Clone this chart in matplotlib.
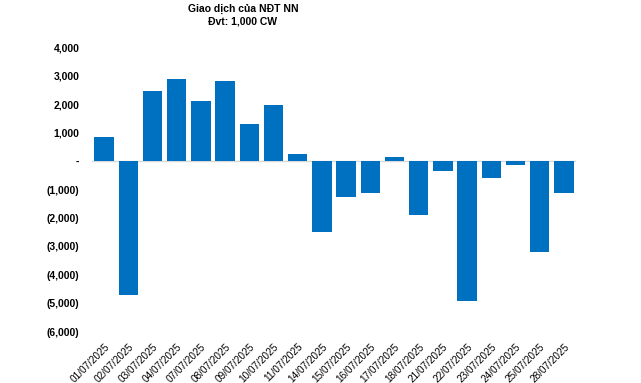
import matplotlib.pyplot as plt
from matplotlib.ticker import FuncFormatter

plt.rcParams['font.family'] = ['Liberation Sans', 'DejaVu Sans']

dates = ['01/07/2025', '02/07/2025', '03/07/2025', '04/07/2025', '07/07/2025',
         '08/07/2025', '09/07/2025', '10/07/2025', '11/07/2025', '14/07/2025',
         '15/07/2025', '16/07/2025', '17/07/2025', '18/07/2025', '21/07/2025',
         '22/07/2025', '23/07/2025', '24/07/2025', '25/07/2025', '28/07/2025']
values = [850, -4710, 2460, 2880, 2110, 2810, 1300, 1970, 250, -2490,
          -1260, -1120, 150, -1900, -340, -4920, -600, -130, -3200, -1120]
yticks = [4000, 3000, 2000, 1000, 0, -1000, -2000, -3000, -4000, -5000, -6000]


def fmt(v, pos=None):
    if v == 0:
        return '-'
    if v < 0:
        return '({:,.0f})'.format(-v)
    return '{:,.0f}'.format(v)


fig = plt.figure(figsize=(6.41, 3.83), dpi=100)
ax = fig.add_axes([92 / 641, 1 - 331.7 / 383, 484 / 641, (331.7 - 47.3) / 383])

x = range(len(dates))
ax.bar(x, values, width=0.8, color='#0070C0', zorder=2)
ax.axhline(0, color='#d9d9d9', lw=1, zorder=1)

ax.set_xlim(-0.5, len(dates) - 0.5)
ax.set_ylim(-6000, 4000)
ax.set_yticks(yticks)
ax.yaxis.set_major_formatter(FuncFormatter(fmt))
ax.set_xticks(list(x))
ax.set_xticklabels(dates, rotation=45, ha='right', va='top', rotation_mode='anchor',
                   fontsize=7.2)

for s in ax.spines.values():
    s.set_visible(False)
ax.tick_params(axis='both', length=0)
ax.tick_params(axis='x', pad=7)
ax.tick_params(axis='y', pad=9, labelsize=7.5)
for t in ax.get_yticklabels():
    t.set_fontweight('bold')

fig.text(243 / 641, 1 - 4 / 383, 'Giao dịch của NĐT NN\nĐvt: 1,000 CW', ha='center', va='top',
         fontsize=7.5, fontweight='bold', linespacing=1.3)

fig.savefig('out.png', dpi=100)
